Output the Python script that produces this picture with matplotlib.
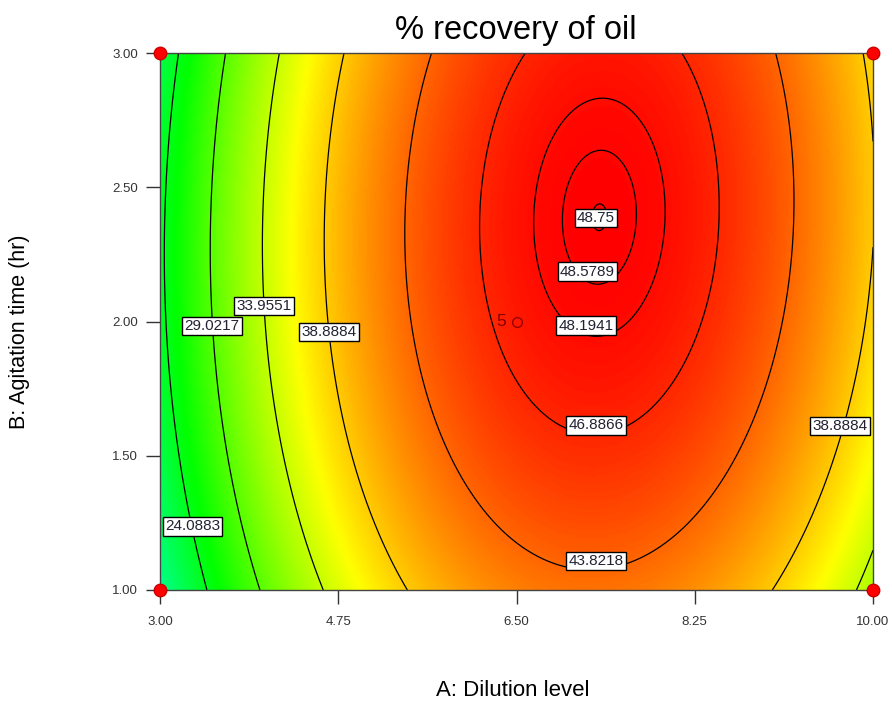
import numpy as np
import matplotlib
matplotlib.use("Agg")
import matplotlib.pyplot as plt
from matplotlib.colors import LinearSegmentedColormap

plt.rcParams['font.family'] = ['Liberation Sans', 'DejaVu Sans']

# ---- data ----
title = "% recovery of oil"
x_label = "A: Dilution level"
y_label = "B: Agitation time (hr)"
x_range = [3.0, 10.0]
y_range = [1.0, 3.0]
x_ticks = [3.00, 4.75, 6.50, 8.25, 10.00]
y_ticks = [1.00, 1.50, 2.00, 2.50, 3.00]
# quadratic model in coded units (A=(x-6.5)/3.5, B=(y-2)/1)
coef_names = ["Intercept", "A", "B", "AB", "A2", "B2"]
coef_values = [47.485, 7.47, 2.08, 0.64, -16.60, -2.87]
contour_levels = [24.0883, 29.0217, 33.9551, 38.8884, 43.8218,
                  46.8866, 48.1941, 48.5789, 48.75]
design_x = [3.0, 3.0, 10.0, 10.0]
design_y = [1.0, 3.0, 1.0, 3.0]
center_point = (6.5, 2.0)
center_reps = "5"
# colour scale stops (value -> colour)
color_stop_values = [3.0, 14.1, 25.3, 36.5, 48.8]
color_stop_colors = ["#0000ff", "#00ffff", "#00ff00", "#ffff00", "#ff0000"]

# label positions (layout)
label_pos = [(3.32, 1.237), (3.51, 1.983), (4.02, 2.058), (4.656, 1.961),
             (9.676, 1.611), (7.28, 1.108), (7.28, 1.613), (7.18, 1.985),
             (7.197, 2.186), (7.28, 2.385)]
label_level_idx = [0, 1, 2, 3, 3, 4, 5, 6, 7, 8]


def model(x, y):
    c = dict(zip(coef_names, coef_values))
    A = (x - 6.5) / 3.5
    B = (y - 2.0) / 1.0
    return (c["Intercept"] + c["A"] * A + c["B"] * B + c["AB"] * A * B
            + c["A2"] * A ** 2 + c["B2"] * B ** 2)


fig = plt.figure(figsize=(8.92, 7.02), dpi=100)
ax = fig.add_axes([160 / 892, 112 / 702, 713 / 892, 537 / 702])

xs = np.linspace(x_range[0], x_range[1], 400)
ys = np.linspace(y_range[0], y_range[1], 300)
X, Y = np.meshgrid(xs, ys)
Z = model(X, Y)

vmin, vmax = color_stop_values[0], color_stop_values[-1]
stops = [((v - vmin) / (vmax - vmin), c) for v, c in zip(color_stop_values, color_stop_colors)]
cmap = LinearSegmentedColormap.from_list("dx", stops)

ax.pcolormesh(X, Y, Z, cmap=cmap, vmin=vmin, vmax=vmax, shading='gouraud', zorder=1)
cs = ax.contour(X, Y, Z, levels=contour_levels, colors='black', linewidths=0.9, zorder=2)

for (lx, ly), li in zip(label_pos, label_level_idx):
    ax.text(lx, ly, f"{contour_levels[li]:g}", ha='center', va='center', fontsize=11,
            color='#222233', zorder=5,
            bbox=dict(boxstyle='square,pad=0.15', fc='white', ec='black', lw=1.0))

ax.plot(design_x, design_y, 'o', ms=9, mfc='#ff0000', mec='#cc0000', mew=1,
        clip_on=False, zorder=6)
ax.plot([center_point[0]], [center_point[1]], 'o', ms=7, mfc='none', mec='#990000',
        mew=1, zorder=6)
ax.text(center_point[0] - 0.1, center_point[1], center_reps, ha='right', va='center',
        fontsize=12.5, color='#880000', zorder=6)

ax.set_xlim(x_range)
ax.set_ylim(y_range)
ax.set_xticks(x_ticks)
ax.set_xticklabels([f"{v:.2f}" for v in x_ticks])
ax.set_yticks(y_ticks)
ax.set_yticklabels([f"{v:.2f}" for v in y_ticks])
ax.tick_params(direction='out', length=10, width=1, labelsize=9.5, colors='#333333')
ax.tick_params(axis='x', pad=9)
ax.tick_params(axis='y', pad=6)
for s in ax.spines.values():
    s.set_color('#444444')
    s.set_linewidth(1)

fig.text(516 / 892, 1 - 30 / 702, title, ha='center', va='center', fontsize=23.5)
fig.text(513 / 892, 1 - 690 / 702, x_label, ha='center', va='center', fontsize=16)
fig.text(20 / 892, 1 - 332 / 702, y_label, ha='center', va='center', fontsize=15.5,
         rotation=90)

fig.savefig("out.png", dpi=100)
